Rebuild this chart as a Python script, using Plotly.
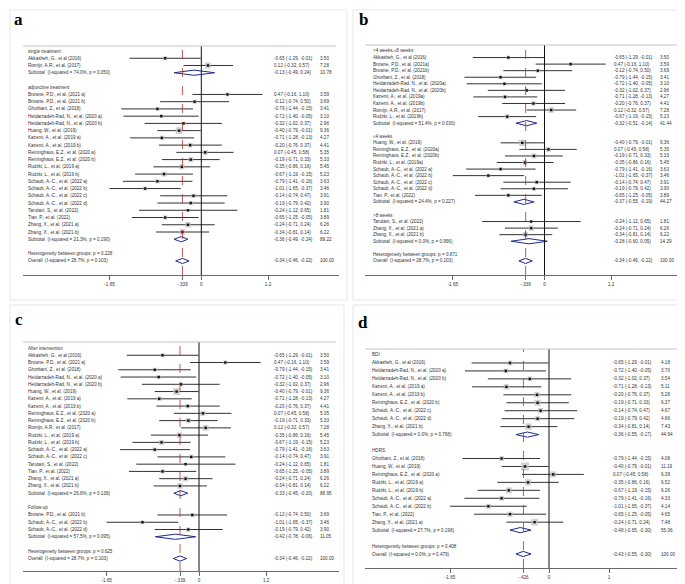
import math
import plotly.graph_objects as go

W, H = 685, 584
FONT = "Liberation Sans, Arial, sans-serif"

# ---------------- Panel a : treatment type ----------------
A_GROUPS = ["single treatment", "adjunctive treatment"]
A_STUDY = [
    ["Akkasheh, G., et al (2016)", "Romijn, A.R., et al. (2017)"],
    ["Browne, P.D., et al. (2021 a)", "Browne, P.D., et al. (2021 b)", "Ghorbani, Z., et al. (2018)",
     "Heidarzadeh-Rad, N., et al. (2020 a)", "Heidarzadeh-Rad, N., et al. (2020 b)", "Huang, W., et al. (2019)",
     "Kazemi, A., et al. (2019 a)", "Kazemi, A., et al. (2019 b)", "Reininghaus, E.Z., et al. (2020 a)",
     "Reininghaus, E.Z., et al. (2020 b)", "Rudzki, L., et al. (2019 a)", "Rudzki, L., et al. (2019 b)",
     "Schaub, A.-C., et al. (2022 a)", "Schaub, A.-C., et al. (2022 b)", "Schaub, A.-C., et al. (2022 c)",
     "Schaub, A.-C., et al. (2022 d)", "Tarutani, S., et al. (2022)", "Tian, P., et al. (2022)",
     "Zhang, X., et al. (2021 a)", "Zhang, X., et al. (2021 b)"],
]
A_SMD = [[-0.65, 0.12],
         [0.47, -0.12, -0.79, -0.72, -0.32, -0.40, -0.71, -0.20, 0.07, -0.19, -0.35, -0.67, -0.79, -1.01,
          -0.14, -0.19, -0.24, -0.65, -0.24, -0.34]]
A_LO = [[-1.29, -0.32],
        [-0.16, -0.74, -1.44, -1.40, -1.02, -0.79, -1.28, -0.76, -0.45, -0.71, -0.86, -1.19, -1.41, -1.65,
         -0.74, -0.79, -1.12, -1.25, -0.71, -0.81]]
A_HI = [[-0.01, 0.57],
        [1.10, 0.50, -0.15, -0.05, 0.37, -0.01, -0.13, 0.37, 0.58, 0.33, 0.16, -0.15, -0.16, -0.37,
         0.47, 0.42, 0.65, -0.05, 0.24, 0.14]]
A_W = [[3.50, 7.28],
       [3.59, 3.69, 3.41, 3.10, 2.96, 9.36, 4.27, 4.41, 5.35, 5.33, 5.45, 5.23, 3.63, 3.46,
        3.91, 3.90, 1.81, 3.89, 6.26, 6.22]]
A_SUB_I2 = ["74.0%", "21.3%"]
A_SUB_P = ["0.050", "0.190"]
A_SUB_SMD = [-0.13, -0.36]
A_SUB_LO = [-0.49, -0.49]
A_SUB_HI = [0.24, -0.24]
A_SUB_W = [10.78, 89.22]
A_HET_P = "0.228"
A_OVERALL = ["28.7%", "0.103", -0.34, -0.46, -0.22]
A_TICKS = [-1.65, -0.339, 0, 1.2]
A_TICKTEXT = ["-1.65", "-.339", "0", "1.2"]

# ---------------- Panel b : duration ----------------
B_GROUPS = [">4 weeks,\u22648 weeks", "\u22644 weeks", ">8 weeks"]
B_STUDY = [
    ["Akkasheh, G., et al (2016)", "Browne, P.D., et al. (2021a)", "Browne, P.D., et al. (2021b)",
     "Ghorbani, Z., et al. (2018)", "Heidarzadeh-Rad, N., et al. (2020a)", "Heidarzadeh-Rad, N., et al. (2020b)",
     "Kazemi, A., et al. (2019a)", "Kazemi, A., et al. (2019b)", "Romijn, A.R., et al. (2017)",
     "Rudzki, L., et al. (2019b)"],
    ["Huang, W., et al. (2019)", "Reininghaus, E.Z., et al. (2020a)", "Reininghaus, E.Z., et al. (2020b)",
     "Rudzki, L., et al. (2019a)", "Schaub, A.-C., et al. (2022 a)", "Schaub, A.-C., et al. (2022 b)",
     "Schaub, A.-C., et al. (2022 c)", "Schaub, A.-C., et al. (2022 d)", "Tian, P., et al. (2022)"],
    ["Tarutani, S., et al. (2022)", "Zhang, X., et al. (2021 a)", "Zhang, X., et al. (2021 b)"],
]
B_SMD = [[-0.65, 0.47, -0.12, -0.79, -0.72, -0.32, -0.71, -0.20, 0.12, -0.67],
         [-0.40, 0.07, -0.19, -0.35, -0.79, -1.01, -0.14, -0.19, -0.65],
         [-0.24, -0.24, -0.34]]
B_LO = [[-1.29, -0.16, -0.74, -1.44, -1.40, -1.02, -1.28, -0.76, -0.32, -1.19],
        [-0.79, -0.45, -0.71, -0.86, -1.41, -1.65, -0.74, -0.79, -1.25],
        [-1.12, -0.71, -0.81]]
B_HI = [[-0.01, 1.10, 0.50, -0.15, -0.05, 0.37, -0.13, 0.37, 0.57, -0.15],
        [-0.01, 0.58, 0.33, 0.16, -0.16, -0.37, 0.47, 0.42, -0.05],
        [0.65, 0.24, 0.14]]
B_W = [[3.50, 3.59, 3.69, 3.41, 3.10, 2.96, 4.27, 4.41, 7.28, 5.23],
       [9.36, 5.35, 5.33, 5.45, 3.63, 3.46, 3.91, 3.90, 3.89],
       [1.81, 6.26, 6.22]]
B_SUB_I2 = ["51.4%", "24.4%", "0.0%"]
B_SUB_P = ["0.030", "0.227", "0.956"]
B_SUB_SMD = [-0.32, -0.37, -0.28]
B_SUB_LO = [-0.51, -0.55, -0.60]
B_SUB_HI = [-0.14, -0.19, 0.05]
B_SUB_W = [41.44, 44.27, 14.29]
B_HET_P = "0.871"
B_OVERALL = ["28.7%", "0.103", -0.34, -0.46, -0.22]
B_TICKS = [-1.65, -0.339, 0, 1.2]
B_TICKTEXT = ["-1.65", "-.339", "0", "1.2"]

# ---------------- Panel c : time of assessment ----------------
C_GROUPS = ["After intervention", "Follow-up"]
C_STUDY = [
    ["Akkasheh, G., et al (2016)", "Browne, P.D., et al. (2021 a)", "Ghorbani, Z., et al. (2018)",
     "Heidarzadeh-Rad, N., et al. (2020 a)", "Heidarzadeh-Rad, N., et al. (2020 b)", "Huang, W., et al. (2019)",
     "Kazemi, A., et al. (2019 a)", "Kazemi, A., et al. (2019 b)", "Reininghaus, E.Z., et al. (2020 a)",
     "Reininghaus, E.Z., et al. (2020 b)", "Romijn, A.R., et al. (2017)", "Rudzki, L., et al. (2019 a)",
     "Rudzki, L., et al. (2019 b)", "Schaub, A.-C., et al. (2022 a)", "Schaub, A.-C., et al. (2022 c)",
     "Tarutani, S., et al. (2022)", "Tian, P., et al. (2022)", "Zhang, X., et al. (2021 a)",
     "Zhang, X., et al. (2021 b)"],
    ["Browne, P.D., et al. (2021 b)", "Schaub, A.-C., et al. (2022 b)", "Schaub, A.-C., et al. (2022 d)"],
]
C_SMD = [[-0.65, 0.47, -0.79, -0.72, -0.32, -0.40, -0.71, -0.20, 0.07, -0.19, 0.12, -0.35, -0.67, -0.79,
          -0.14, -0.24, -0.65, -0.24, -0.34],
         [-0.12, -1.01, -0.19]]
C_LO = [[-1.29, -0.16, -1.44, -1.40, -1.02, -0.79, -1.28, -0.76, -0.45, -0.71, -0.32, -0.86, -1.19, -1.41,
         -0.74, -1.12, -1.25, -0.71, -0.81],
        [-0.74, -1.65, -0.79]]
C_HI = [[-0.01, 1.10, -0.15, -0.05, 0.37, -0.01, -0.13, 0.37, 0.58, 0.33, 0.57, 0.16, -0.15, -0.16,
         0.47, 0.65, -0.05, 0.24, 0.14],
        [0.50, -0.37, 0.42]]
C_W = [[3.50, 3.59, 3.41, 3.10, 2.96, 9.36, 4.27, 4.41, 5.35, 5.33, 7.28, 5.45, 5.23, 3.63,
        3.91, 1.81, 3.89, 6.26, 6.22],
       [3.69, 3.46, 3.90]]
C_SUB_I2 = ["26.8%", "57.5%"]
C_SUB_P = ["0.138", "0.095"]
C_SUB_SMD = [-0.33, -0.42]
C_SUB_LO = [-0.45, -0.78]
C_SUB_HI = [-0.20, -0.06]
C_SUB_W = [88.95, 11.05]
C_HET_P = "0.625"
C_OVERALL = ["28.7%", "0.103", -0.34, -0.46, -0.22]
C_TICKS = [-1.65, -0.339, 0, 1.2]
C_TICKTEXT = ["-1.65", "-.339", "0", "1.2"]

# ---------------- Panel d : depression scale ----------------
D_GROUPS = ["BDI", "HDRS"]
D_STUDY = [
    ["Akkasheh, G., et al (2016)", "Heidarzadeh-Rad, N., et al. (2020 a)", "Heidarzadeh-Rad, N., et al. (2020 b)",
     "Kazemi, A., et al. (2019 a)", "Kazemi, A., et al. (2019 b)", "Reininghaus, E.Z., et al. (2020 b)",
     "Schaub, A.-C., et al. (2022 c)", "Schaub, A.-C., et al. (2022 d)", "Zhang, X., et al. (2021 b)"],
    ["Ghorbani, Z., et al. (2018)", "Huang, W., et al. (2019)", "Reininghaus, E.Z., et al. (2020 a)",
     "Rudzki, L., et al. (2019 a)", "Rudzki, L., et al. (2019 b)", "Schaub, A.-C., et al. (2022 a)",
     "Schaub, A.-C., et al. (2022 b)", "Tian, P., et al. (2022)", "Zhang, X., et al. (2021 a)"],
]
D_SMD = [[-0.65, -0.72, -0.32, -0.71, -0.20, -0.19, -0.14, -0.19, -0.34],
         [-0.79, -0.40, 0.07, -0.35, -0.67, -0.79, -1.01, -0.65, -0.24]]
D_LO = [[-1.29, -1.40, -1.02, -1.28, -0.76, -0.71, -0.74, -0.79, -0.81],
        [-1.44, -0.79, -0.45, -0.86, -1.19, -1.41, -1.65, -1.25, -0.71]]
D_HI = [[-0.01, -0.05, 0.37, -0.13, 0.37, 0.33, 0.47, 0.42, 0.14],
        [-0.15, -0.01, 0.58, 0.16, -0.15, -0.16, -0.37, -0.05, 0.24]]
D_W = [[4.18, 3.70, 3.54, 5.11, 5.28, 6.37, 4.67, 4.66, 7.43],
       [4.08, 11.19, 6.39, 6.52, 6.26, 4.33, 4.14, 4.65, 7.48]]
D_SUB_I2 = ["0.0%", "27.7%"]
D_SUB_P = ["0.768", "0.198"]
D_SUB_SMD = [-0.36, -0.48]
D_SUB_LO = [-0.55, -0.65]
D_SUB_HI = [-0.17, -0.30]
D_SUB_W = [44.94, 55.06]
D_HET_P = "0.408"
D_OVERALL = ["0.0%", "0.479", -0.43, -0.55, -0.30]
D_TICKS = [-1.65, -0.426, 0, 1]
D_TICKTEXT = ["-1.65", "-.426", "0", "1"]

PANELS = [
    ("a", A_GROUPS, A_STUDY, A_SMD, A_LO, A_HI, A_W, A_SUB_I2, A_SUB_P, A_SUB_SMD, A_SUB_LO, A_SUB_HI,
     A_SUB_W, A_HET_P, A_OVERALL, A_TICKS, A_TICKTEXT),
    ("b", B_GROUPS, B_STUDY, B_SMD, B_LO, B_HI, B_W, B_SUB_I2, B_SUB_P, B_SUB_SMD, B_SUB_LO, B_SUB_HI,
     B_SUB_W, B_HET_P, B_OVERALL, B_TICKS, B_TICKTEXT),
    ("c", C_GROUPS, C_STUDY, C_SMD, C_LO, C_HI, C_W, C_SUB_I2, C_SUB_P, C_SUB_SMD, C_SUB_LO, C_SUB_HI,
     C_SUB_W, C_HET_P, C_OVERALL, C_TICKS, C_TICKTEXT),
    ("d", D_GROUPS, D_STUDY, D_SMD, D_LO, D_HI, D_W, D_SUB_I2, D_SUB_P, D_SUB_SMD, D_SUB_LO, D_SUB_HI,
     D_SUB_W, D_HET_P, D_OVERALL, D_TICKS, D_TICKTEXT),
]

# ---------------- layout geometry (pixels) ----------------
GEOM = {
    "a": dict(box=(2, 2, 339, 292), ax0=15, ax1=331, top=38, bot=267, zero=193.3, scale=55.6,
              row0=43, sp=7.24, cname=18, csmd=264, cw=310, h1=22, h2=29, lab=(10, 12), boxk=2.2),
    "b": dict(box=(345, 2, 683, 292), ax0=357, ax1=675, top=37, bot=267, zero=536.5, scale=55.6,
              row0=43, sp=6.56, cname=363, csmd=604, cw=650, h1=22, h2=29, lab=(355, 12), boxk=2.1),
    "c": dict(box=(2, 297, 336, 582), ax0=15, ax1=331, top=334, bot=563, zero=191, scale=56,
              row0=340, sp=7.26, cname=18, csmd=264, cw=310, h1=318, h2=325, lab=(11, 311), boxk=2.2),
    "d": dict(box=(345, 297, 683, 582), ax0=357, ax1=675, top=341, bot=560, zero=541, scale=60,
              row0=347, sp=7.96, cname=362, csmd=603, cw=651, h1=324, h2=332, lab=(355, 314), boxk=2.4),
}

TXT = dict(family=FONT, size=4.6, color="#333333")


def fmt_ci(e, l, h):
    return f"{e:.2f} ({l:.2f}, {h:.2f})"


fig = go.Figure()
annotations = []
shapes = []

for i, (key, groups, study, smd, lo, hi, wts, si2, sp_, sse, slo, shi, sw, hetp, ov, ticks, ticktext) in enumerate(PANELS, start=1):
    g = GEOM[key]
    xa = "x" if i == 1 else f"x{i}"
    ya = "y" if i == 1 else f"y{i}"

    # build rows
    rows = []
    for gi, title in enumerate(groups):
        rows.append(("group", title))
        for n, e, l, h, w in zip(study[gi], smd[gi], lo[gi], hi[gi], wts[gi]):
            rows.append(("study", n, e, l, h, w))
        rows.append(("sub", f"Subtotal\u00a0 (I-squared = {si2[gi]}, p = {sp_[gi]})", sse[gi], slo[gi], shi[gi], sw[gi]))
        rows.append(("blank",))
    rows.append(("het", f"Heterogeneity between groups: p = {hetp}"))
    rows.append(("overall", f"Overall\u00a0 (I-squared = {ov[0]}, p = {ov[1]})", ov[2], ov[3], ov[4], 100.00))

    def xd(px, g=g):
        return (px - g["zero"]) / g["scale"]

    def yr(py, g=g):
        return (py - g["row0"]) / g["sp"]

    # axes
    fig.update_layout(**{
        ("xaxis" if i == 1 else f"xaxis{i}"): dict(
            domain=[g["ax0"] / W, g["ax1"] / W], range=[xd(g["ax0"]), xd(g["ax1"])],
            anchor=ya, showline=True, linecolor="#6a6a6a", linewidth=1.2, ticks="outside",
            ticklen=4, tickcolor="#6a6a6a", tickwidth=1, tickvals=ticks, ticktext=ticktext,
            tickfont=dict(family=FONT, size=4.6, color="#333333"), showgrid=False, zeroline=False,
            fixedrange=True),
        ("yaxis" if i == 1 else f"yaxis{i}"): dict(
            domain=[1 - g["bot"] / H, 1 - g["top"] / H], range=[yr(g["bot"]), yr(g["top"])],
            anchor=xa, visible=False, fixedrange=True),
    })

    # CI lines
    cx, cy = [], []
    sq_x, sq_y, sq_s = [], [], []
    for r, row in enumerate(rows):
        if row[0] == "study":
            _, n, e, l, h, w = row
            cx += [l, h, None]
            cy += [r, r, None]
            sq_x.append(e)
            sq_y.append(r)
            sq_s.append(g["boxk"] * math.sqrt(w))
    fig.add_trace(go.Scatter(x=cx, y=cy, mode="lines", line=dict(color="#1a1a1a", width=0.9),
                             xaxis=xa, yaxis=ya, showlegend=False, hoverinfo="skip"))
    fig.add_trace(go.Scatter(x=sq_x, y=sq_y, mode="markers",
                             marker=dict(symbol="square", size=sq_s, color="#bdbdbd", line=dict(width=0)),
                             xaxis=xa, yaxis=ya, showlegend=False, hoverinfo="skip"))
    fig.add_trace(go.Scatter(x=sq_x, y=sq_y, mode="markers",
                             marker=dict(symbol="square", size=2.4, color="#111111", line=dict(width=0)),
                             xaxis=xa, yaxis=ya, showlegend=False, hoverinfo="skip"))

    # vertical reference lines
    ref_x = ticks[1]
    shapes.append(dict(type="line", xref=xa, yref=f"{ya} domain", x0=0, x1=0, y0=0, y1=1,
                       line=dict(color="#111111", width=1)))
    shapes.append(dict(type="line", xref=xa, yref=f"{ya} domain", x0=ref_x, x1=ref_x, y0=0, y1=1,
                       line=dict(color="#b03030", width=0.8, dash="dash")))

    # diamonds
    dh = 2.6 / g["sp"]
    for r, row in enumerate(rows):
        if row[0] in ("sub", "overall"):
            _, n, e, l, h, w = row
            fig.add_trace(go.Scatter(x=[l, e, h, e, l], y=[r, r - dh, r, r + dh, r], mode="lines",
                                     fill="toself", fillcolor="white",
                                     line=dict(color="#1f2a8c", width=1), xaxis=xa, yaxis=ya,
                                     showlegend=False, hoverinfo="skip"))

    # text columns
    def ann(px, row_y, text, g=g):
        annotations.append(dict(x=xd(px), y=row_y, xref=xa, yref=ya, text=text, showarrow=False,
                                xanchor="left", yanchor="middle", font=TXT))

    ann(g["cname"], yr(g["h1"]), "Study")
    ann(g["cname"], yr(g["h2"]), "ID")
    ann(g["csmd"], yr(g["h2"]), "SMD (95% CI)")
    ann(g["cw"], yr(g["h1"]), "%")
    ann(g["cw"], yr(g["h2"]), "Weight")
    for r, row in enumerate(rows):
        if row[0] in ("group", "het"):
            ann(g["cname"], r, row[1])
        elif row[0] in ("study", "sub", "overall"):
            _, n, e, l, h, w = row
            ann(g["cname"], r, n)
            ann(g["csmd"], r, fmt_ci(e, l, h))
            ann(g["cw"], r, f"{w:.2f}")

    # header rule
    shapes.append(dict(type="line", xref="paper", yref="paper", x0=g["ax0"] / W, x1=(g["ax1"] - 3) / W,
                       y0=1 - g["top"] / H, y1=1 - g["top"] / H, line=dict(color="#c4c4c4", width=1)))
    # panel frame
    bx0, by0, bx1, by1 = g["box"]
    shapes.append(dict(type="rect", xref="paper", yref="paper", x0=bx0 / W, x1=bx1 / W,
                       y0=1 - by1 / H, y1=1 - by0 / H, line=dict(color="#e3e8ea", width=1),
                       fillcolor="rgba(0,0,0,0)", layer="below"))
    # panel letter
    annotations.append(dict(x=g["lab"][0] / W, y=1 - g["lab"][1] / H, xref="paper", yref="paper",
                            text=f"<b>{key}</b>", showarrow=False, xanchor="center", yanchor="middle",
                            font=dict(family="Liberation Serif, Times New Roman, serif", size=17,
                                      color="#000000")))

fig.update_layout(width=W, height=H, margin=dict(l=0, r=0, t=0, b=0), paper_bgcolor="white",
                  plot_bgcolor="white", annotations=annotations, shapes=shapes, showlegend=False)

fig.write_html("out.html")
